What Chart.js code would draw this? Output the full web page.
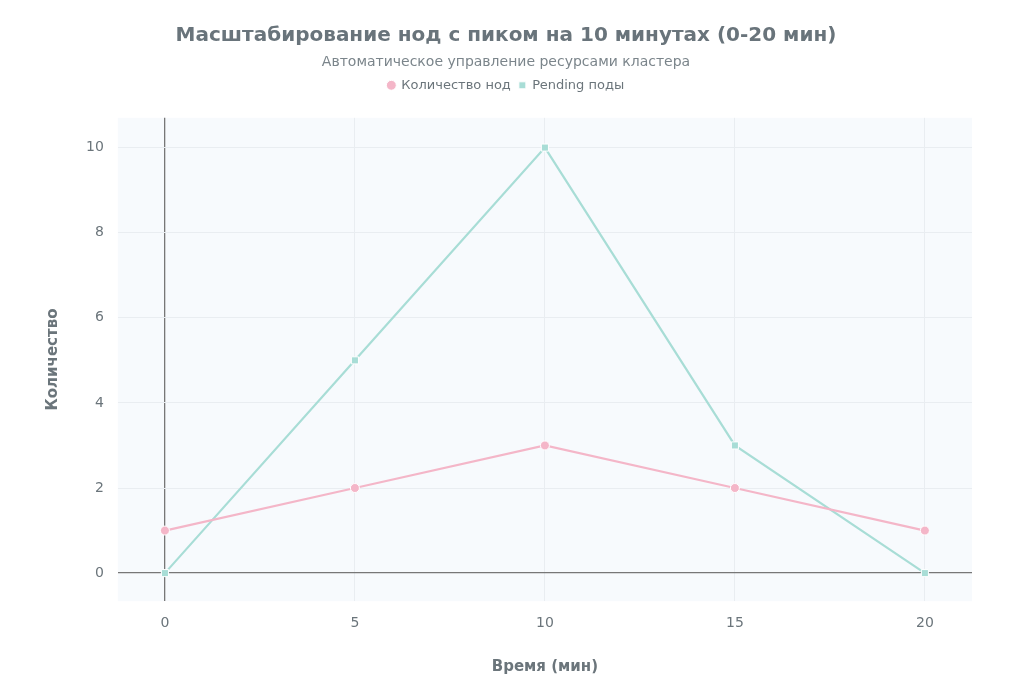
<!DOCTYPE html>
<html><head><meta charset="utf-8">
<script src="https://cdn.jsdelivr.net/npm/chart.js@4"></script>
<style>html,body{margin:0;background:#fff}#w{width:1024px;height:682px}</style>
</head><body><div id="w"><canvas id="c"></canvas></div>
<script>
const times = [0, 5, 10, 15, 20];
const nodes = [1, 2, 3, 2, 1];
const pending = [0, 5, 10, 3, 0];
const yTicks = [0, 2, 4, 6, 8, 10];
const xTicks = [0, 5, 10, 15, 20];
const FONT = "'DejaVu Sans', sans-serif";
const pink = '#f4b6c8', teal = '#a8ddd6';
const bg = {id:'bg', beforeDraw(ch){const a=ch.chartArea,c=ch.ctx;c.save();c.fillStyle='#f7fafd';c.fillRect(a.left,a.top,a.right-a.left,a.bottom-a.top);c.restore();}};
new Chart(document.getElementById('c'), {
  type: 'line',
  data: { datasets: [
    {label:'Количество нод', data: times.map((t,i)=>({x:t,y:nodes[i]})), borderColor:pink, backgroundColor:pink, pointStyle:'circle', pointRadius:4.5, pointBorderColor:'#fff', pointBorderWidth:1, borderWidth:2.2},
    {label:'Pending поды', data: times.map((t,i)=>({x:t,y:pending[i]})), borderColor:teal, backgroundColor:teal, pointStyle:'rect', pointRadius:5, pointBorderColor:'#fff', pointBorderWidth:1, borderWidth:2.2}
  ]},
  options: {
    responsive:true, maintainAspectRatio:false, animation:false,
    layout:{padding:{left:40,right:52,top:18,bottom:2}},
    plugins:{
      title:{display:true,text:'Масштабирование нод с пиком на 10 минутах (0-20 мин)',color:'#69747b',font:{family:FONT,size:20,weight:'bold'},padding:{top:6,bottom:6}},
      subtitle:{display:true,text:'Автоматическое управление ресурсами кластера',color:'#7b858b',font:{family:FONT,size:14},padding:{bottom:0}},
      legend:{position:'top',labels:{usePointStyle:true,boxWidth:7,boxHeight:7,color:'#6b757b',font:{family:FONT,size:13},padding:8}},
      tooltip:{enabled:false}
    },
    scales:{
      x:{type:'linear',min:-1.24,max:21.24,afterBuildTicks(s){s.ticks=xTicks.map(v=>({value:v}));},
        grid:{color:c=>c.tick&&c.tick.value===0?'#777':'#e9edf1',lineWidth:c=>c.tick&&c.tick.value===0?1.3:1,drawTicks:false},border:{display:false},
        ticks:{color:'#6b757b',font:{family:FONT,size:14},padding:14},
        title:{display:true,text:'Время (мин)',color:'#6b757b',font:{family:FONT,size:15,weight:'bold'},padding:{top:12}}},
      y:{min:-0.66,max:10.7,afterBuildTicks(s){s.ticks=yTicks.map(v=>({value:v}));},
        grid:{color:c=>c.tick&&c.tick.value===0?'#777':'#e9edf1',lineWidth:c=>c.tick&&c.tick.value===0?1.3:1,drawTicks:false},border:{display:false},
        ticks:{color:'#6b757b',font:{family:FONT,size:14},padding:14},
        title:{display:true,text:'Количество',color:'#6b757b',font:{family:FONT,size:15,weight:'bold'},padding:{bottom:10}}}
    }
  },
  plugins:[bg,{id:'legendPad',beforeInit(ch){const f=ch.legend.fit;ch.legend.fit=function(){f.call(this);this.height+=16;};}}]
});
</script></body></html>
